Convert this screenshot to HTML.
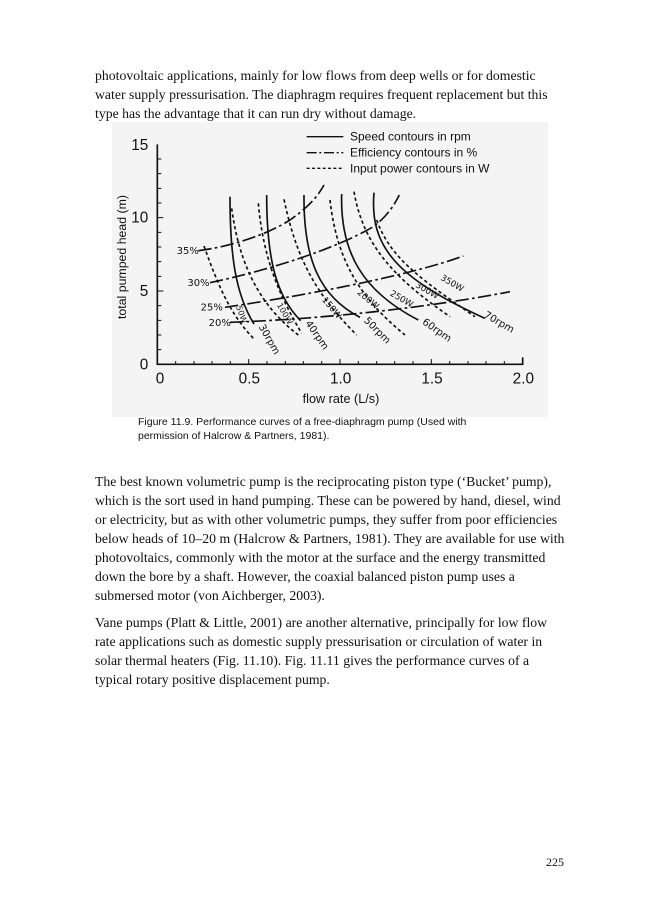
<!DOCTYPE html>
<html><head><meta charset="utf-8"><style>
body{margin:0;background:#fff;}
#p{position:relative;width:660px;height:900px;overflow:hidden;background:#fff;}
.t{position:absolute;left:95px;font-family:"Liberation Serif",serif;font-size:13.75px;white-space:nowrap;color:#111;line-height:19px;}
.c{position:absolute;left:138px;font-family:"Liberation Sans",sans-serif;font-size:10.5px;white-space:nowrap;color:#111;}
</style></head><body><div id="p">
<div class="t" style="top:66px">photovoltaic applications, mainly for low flows from deep wells or for domestic</div>
<div class="t" style="top:85px">water supply pressurisation. The diaphragm requires frequent replacement but this</div>
<div class="t" style="top:104px">type has the advantage that it can run dry without damage.</div>
<div style="position:absolute;left:112px;top:122px;width:436px;height:295px;background:#f4f4f4"></div>
<svg style="position:absolute;left:100px;top:120px" width="450" height="300" viewBox="-90 0 1350 900" font-family="Liberation Sans, sans-serif">
<g stroke="#111" fill="none">
<path d="M82,73 V733 H1178 V712" stroke-width="5"/>
<g stroke-width="3">
<path d="M82,117h12M82,161h12M82,205h12M82,249h12M82,337h12M82,381h12M82,425h12M82,469h12M82,557h12M82,601h12M82,645h12M82,689h12M82,293h18M82,513h18"/>
<path d="M137,733v-10M192,733v-10M246,733v-10M301,733v-10M356,733v-16M411,733v-10M466,733v-10M520,733v-10M575,733v-10M630,733v-16M685,733v-10M740,733v-10M794,733v-10M849,733v-10M904,733v-16M959,733v-10M1014,733v-10M1068,733v-10M1123,733v-10"/>
</g>
<g stroke-width="5">
<path d="M300,230 C300,400 315,520 372,612"/>
<path d="M410,225 C410,420 440,530 512,602"/>
<path d="M522,225 C520,420 570,530 690,592"/>
<path d="M635,222 C630,400 700,515 865,600"/>
<path d="M732,218 C718,380 800,475 1065,595"/>
</g>
<g stroke-width="5" stroke-dasharray="10,8">
<path d="M222,378 C262,490 300,585 375,660"/>
<path d="M305,265 C330,450 400,565 505,645"/>
<path d="M385,250 C400,420 450,530 515,640"/>
<path d="M462,238 C500,420 560,525 680,645"/>
<path d="M600,240 C620,420 690,535 825,645"/>
<path d="M672,215 C700,380 800,480 960,590"/>
<path d="M740,300 C780,410 860,470 1035,590"/>
</g>
<g stroke-width="5" stroke-dasharray="40,10,8,10">
<path d="M205,392 C300,380 410,345 480,300 C530,265 560,235 582,195"/>
<path d="M240,488 C420,450 620,385 730,320 C770,290 790,260 808,225"/>
<path d="M285,562 C500,530 830,470 1000,408"/>
<path d="M300,607 C500,600 830,575 1140,515"/>
</g>
<path d="M530,50h110" stroke-width="4"/>
<path d="M530,98h110" stroke-width="4" stroke-dasharray="30,8,6,8"/>
<path d="M530,145h110" stroke-width="4" stroke-dasharray="9,7"/>
</g>
<g fill="#111" font-size="36">
<text x="660" y="62">Speed contours in rpm</text>
<text x="660" y="110">Efficiency contours in %</text>
<text x="660" y="157">Input power contours in W</text>
</g>
<g fill="#111" font-size="46">
<text x="55" y="90" text-anchor="end">15</text>
<text x="55" y="308" text-anchor="end">10</text>
<text x="55" y="528" text-anchor="end">5</text>
<text x="55" y="748" text-anchor="end">0</text>
<text x="90" y="790" text-anchor="middle">0</text>
<text x="358" y="790" text-anchor="middle">0.5</text>
<text x="632" y="790" text-anchor="middle">1.0</text>
<text x="906" y="790" text-anchor="middle">1.5</text>
<text x="1180" y="790" text-anchor="middle">2.0</text>
<text x="633" y="849" text-anchor="middle" font-size="38">flow rate (L/s)</text>
<text transform="translate(-12,411) rotate(-90)" text-anchor="middle" font-size="37">total pumped head (m)</text>
</g>
<g fill="#111" font-size="30" font-family="DejaVu Sans, sans-serif">
<text x="140" y="402">35%</text>
<text x="172" y="498">30%</text>
<text x="212" y="572">25%</text>
<text x="236" y="618">20%</text>
<text transform="translate(385,620) rotate(60)">30rpm</text>
<text transform="translate(525,610) rotate(55)">40rpm</text>
<text transform="translate(700,603) rotate(45)">50rpm</text>
<text transform="translate(875,610) rotate(35)">60rpm</text>
<text transform="translate(1060,590) rotate(30)">70rpm</text>
<text transform="translate(318,560) rotate(70)" font-size="24">50W</text>
<text transform="translate(440,555) rotate(60)" font-size="24">100W</text>
<text transform="translate(575,540) rotate(50)" font-size="26">150W</text>
<text transform="translate(680,520) rotate(40)" font-size="26">200W</text>
<text transform="translate(778,525) rotate(30)" font-size="26">250W</text>
<text transform="translate(855,500) rotate(30)" font-size="26">300W</text>
<text transform="translate(930,478) rotate(30)" font-size="26">350W</text>
</g>
</svg>
<div class="c" style="top:416px">Figure 11.9. Performance curves of a free-diaphragm pump (Used with</div>
<div class="c" style="top:430px">permission of Halcrow &amp; Partners, 1981).</div>
<div class="t" style="top:472px">The best known volumetric pump is the reciprocating piston type (‘Bucket’ pump),</div>
<div class="t" style="top:491px">which is the sort used in hand pumping. These can be powered by hand, diesel, wind</div>
<div class="t" style="top:510px">or electricity, but as with other volumetric pumps, they suffer from poor efficiencies</div>
<div class="t" style="top:529px">below heads of 10–20 m (Halcrow &amp; Partners, 1981). They are available for use with</div>
<div class="t" style="top:548px">photovoltaics, commonly with the motor at the surface and the energy transmitted</div>
<div class="t" style="top:567px">down the bore by a shaft. However, the coaxial balanced piston pump uses a</div>
<div class="t" style="top:586px">submersed motor (von Aichberger, 2003).</div>
<div class="t" style="top:613px">Vane pumps (Platt &amp; Little, 2001) are another alternative, principally for low flow</div>
<div class="t" style="top:632px">rate applications such as domestic supply pressurisation or circulation of water in</div>
<div class="t" style="top:651px">solar thermal heaters (Fig. 11.10). Fig. 11.11 gives the performance curves of a</div>
<div class="t" style="top:670px">typical rotary positive displacement pump.</div>
<div class="t" style="top:853px;left:546px;font-size:12px">225</div>
</div></body></html>
